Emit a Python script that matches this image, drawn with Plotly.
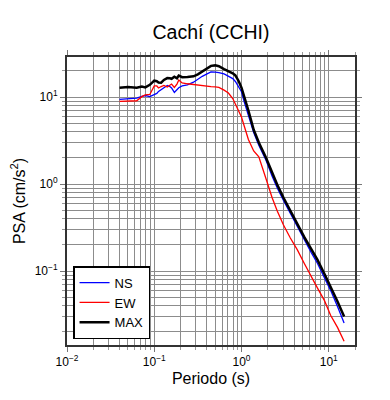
import plotly.graph_objects as go

period = [0.040, 0.050, 0.063, 0.072, 0.079, 0.089, 0.100, 0.107, 0.112, 0.120,
          0.129, 0.141, 0.151, 0.158, 0.170, 0.182, 0.191, 0.209, 0.240, 0.282,
          0.316, 0.355, 0.398, 0.447, 0.501, 0.550, 0.631, 0.708, 0.794, 0.851,
          0.933, 1.00, 1.07, 1.20, 1.38, 1.58, 1.91, 2.24, 2.57, 3.02,
          3.63, 4.37, 5.25, 6.31, 7.41, 8.91, 10.5, 12.6, 15.0]

ns = [9.4, 9.5, 9.7, 10.2, 10.4, 10.1, 10.6, 11.0, 11.6, 12.2,
      12.9, 13.6, 13.2, 12.7, 11.3, 12.1, 12.8, 13.4, 13.8, 14.8,
      16.0, 17.3, 18.3, 19.4, 19.3, 19.1, 18.4, 17.3, 16.3, 15.1,
      13.0, 11.5, 8.9, 6.2, 3.9, 2.8, 1.88, 1.24, 0.90, 0.65,
      0.46, 0.33, 0.225, 0.163, 0.123, 0.084, 0.060, 0.039, 0.0253]

ew = [8.9, 9.0, 9.06, 10.1, 10.6, 10.7, 13.4, 13.4, 12.7, 13.2,
      13.6, 13.0, 13.5, 14.1, 12.9, 14.1, 15.7, 14.5, 14.2, 13.9,
      13.6, 13.4, 13.2, 13.2, 13.1, 12.9, 12.0, 11.1, 9.6, 8.3,
      6.9, 5.9, 4.7, 3.25, 2.4, 2.05, 1.15, 0.70, 0.49, 0.34,
      0.24, 0.175, 0.122, 0.085, 0.064, 0.046, 0.031, 0.0225, 0.0156]

mx = [12.8, 13.0, 12.8, 13.2, 12.9, 13.8, 15.4, 15.2, 14.7, 14.6,
      15.7, 16.5, 16.4, 16.2, 17.1, 16.4, 17.6, 16.9, 17.0, 17.3,
      18.2, 19.7, 21.5, 22.8, 23.1, 22.6, 20.9, 19.8, 18.7, 17.7,
      15.1, 12.8, 10.4, 7.0, 4.2, 3.0, 2.0, 1.35, 0.98, 0.70,
      0.49, 0.35, 0.245, 0.179, 0.135, 0.093, 0.067, 0.0447, 0.030]

x_tickvals = [0.01, 0.1, 1, 10]
x_ticktext = ["10<sup>\u22122</sup>", "10<sup>\u22121</sup>", "10<sup>0</sup>", "10<sup>1</sup>"]
y_tickvals = [0.1, 1, 10]
y_ticktext = ["10<sup>\u22121</sup>", "10<sup>0</sup>", "10<sup>1</sup>"]

FONT = "Liberation Sans, Arial, sans-serif"
GRID = "#8c8c8c"

fig = go.Figure()
fig.add_trace(go.Scatter(x=period, y=ns, mode="lines", name="NS",
                         line=dict(color="#0000ff", width=1.3)))
fig.add_trace(go.Scatter(x=period, y=ew, mode="lines", name="EW",
                         line=dict(color="#ff0000", width=1.3)))
fig.add_trace(go.Scatter(x=period, y=mx, mode="lines", name="MAX",
                         line=dict(color="#000000", width=2.5)))

axis_common = dict(
    type="log", showgrid=True, gridcolor=GRID, gridwidth=1,
    ticks="outside", ticklen=5, tickwidth=1, tickcolor="#777777",
    showline=True, linewidth=2, linecolor="#333333", mirror="allticks",
    zeroline=False, automargin=False,
    tickfont=dict(family=FONT, size=12, color="black"),
    minor=dict(dtick="D1", showgrid=True, gridcolor=GRID, gridwidth=1,
               ticks="outside", ticklen=3, tickcolor="#999999"),
)

W, H = 382, 392
fig.update_layout(
    width=W, height=H,
    margin=dict(l=59, r=35, t=49, b=55, autoexpand=False),
    paper_bgcolor="white", plot_bgcolor="white",
    font=dict(family=FONT, color="black"),
    title=dict(text="Cach\u00ed (CCHI)", x=0.5, xref="paper", xanchor="center",
               y=1 - 24 / H, yref="container", yanchor="middle",
               font=dict(family=FONT, size=19.5, color="black")),
    xaxis=dict(axis_common, range=[-2, 1.301], tickmode="array",
               tickvals=x_tickvals, ticktext=x_ticktext,
               title=dict(text="Periodo (s)", font=dict(family=FONT, size=16), standoff=4)),
    yaxis=dict(axis_common, range=[-1.85, 1.46], tickmode="array",
               tickvals=y_tickvals, ticktext=y_ticktext,
               title=dict(text="PSA (cm/s<sup>2</sup>)", font=dict(family=FONT, size=16), standoff=10)),
    showlegend=True,
    legend=dict(x=0.021, y=0.274, xanchor="left", yanchor="top",
                bgcolor="white", bordercolor="black", borderwidth=1.5,
                font=dict(family=FONT, size=13, color="black"),
                tracegroupgap=0, itemwidth=30),
)

fig.write_html("out.html")
